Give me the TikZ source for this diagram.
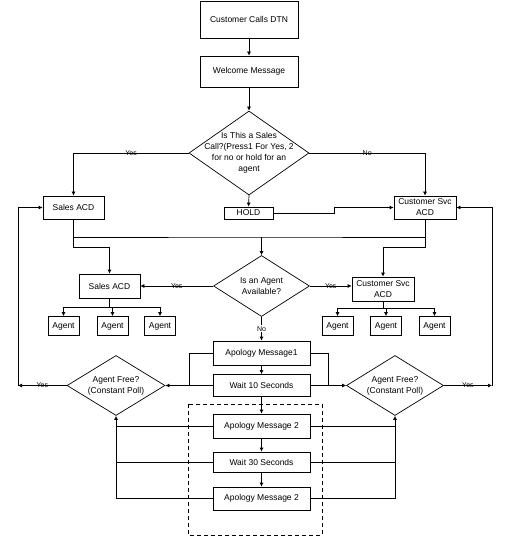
\documentclass[tikz,border=0pt]{standalone}
\usepackage{fontspec}
\setmainfont{Liberation Sans}
\usetikzlibrary{shapes.geometric,arrows.meta}

\begin{document}
\begin{tikzpicture}[x=1pt,y=-1pt,line width=0.7pt,
  every node/.style={font=\fontsize{8.5}{11}\selectfont},
  box/.style={draw,rectangle,inner sep=1pt,align=center,minimum width=97pt},
  ask/.style={draw,diamond,inner sep=0pt},
  lbl/.style={font=\fontsize{7}{8}\selectfont,inner sep=1pt},
  arr/.style={-{Latex[length=4pt,width=4pt]}}]
  \useasboundingbox (0,0) rectangle (510,537);

  % main column
  \node[box,minimum width=98pt,minimum height=37pt] (calls) at (249,19.5) {Customer Calls DTN};
  \node[box,minimum width=98pt,minimum height=31pt] (welcome) at (249,71.5) {Welcome Message};
  \node[ask,minimum width=120pt,minimum height=84pt,
    label={[align=center]center:{Is This a Sales\\Call?(Press1 For Yes, 2\\for no or hold for an\\agent}}] (q1) at (249,153) {};
  \node[box,minimum width=61pt,minimum height=23pt] (salesA) at (73.5,207.5) {Sales ACD};
  \node[box,minimum width=49pt,minimum height=12pt,inner sep=0pt] (hold) at (248.5,213) {HOLD};
  \node[box,minimum width=62pt,minimum height=23pt] (svcA) at (425,207.5) {Customer Svc\\ACD};
  \node[ask,minimum width=96pt,minimum height=61pt,
    label={[align=center]center:{Is an Agent\\Available?}}] (q2) at (261.5,286) {};
  \node[box,minimum width=61pt,minimum height=24pt] (salesB) at (109.5,286) {Sales ACD};
  \node[box,minimum width=62pt,minimum height=24pt] (svcB) at (383,289) {Customer Svc\\ACD};
  \foreach \n/\x in {1/63.5,2/112.5,3/160}
    \node[box,minimum width=31pt,minimum height=19pt] (sa\n) at (\x,326) {Agent};
  \foreach \n/\x in {1/337.5,2/386,3/434.5}
    \node[box,minimum width=31pt,minimum height=19pt] (ca\n) at (\x,326) {Agent};
  \node[box,minimum height=24pt] (apo1) at (261.5,353) {Apology Message1};
  \node[box,minimum height=22pt] (wait10) at (261.5,385.5) {Wait 10 Seconds};
  \node[ask,minimum width=98pt,minimum height=60pt,
    label={[align=center]center:{Agent Free?\\(Constant Poll)}}] (d3) at (116,385.5) {};
  \node[ask,minimum width=97pt,minimum height=60pt,
    label={[align=center]center:{Agent Free?\\(Constant Poll)}}] (d4) at (395,385.5) {};
  \draw[dash pattern=on 4pt off 3pt] (188,404) rectangle (322,535);
  \node[box,minimum height=24pt] (apo2a) at (261.5,426) {Apology Message 2};
  \node[box,minimum height=20pt] (wait30) at (261.5,462) {Wait 30 Seconds};
  \node[box,minimum height=23pt] (apo2b) at (261.5,498.5) {Apology Message 2};

  \coordinate (hstep) at (334,213);
  \coordinate (join) at (261.5,237);
  \coordinate (lb) at (189,385.5);
  \coordinate (rb) at (328,385.5);
  \coordinate (lret) at (18,385.5);
  \coordinate (rret) at (492,385.5);

  % connectors
  \draw[arr] (calls) -- (welcome);
  \draw[arr] (welcome) -- (q1);
  \draw[arr] (q1.west) -| node[lbl,pos=0.25] {Yes} (salesA.north);
  \draw[arr] (q1.east) -| node[lbl,pos=0.25] {No} (svcA.north);
  \draw[arr] (q1.south) -- (hold.north);
  \draw[arr] (hold.east) -- (hstep) |- (svcA.west);
  \draw (salesA.south) |- (join) -| (svcA.south);
  \draw[arr] (join) -- (q2.north);
  \draw[arr] (salesA.south) -- ++(0,28) -| (salesB.north);
  \draw[arr] (svcA.south) -- ++(0,28) -| (svcB.north);
  \draw[arr] (q2.west) -- node[lbl] {Yes} (salesB.east);
  \draw[arr] (q2.east) -- node[lbl] {Yes} (q2.east -| svcB.west);
  \foreach \n in {1,2,3} {
    \draw[arr] (salesB.south) -- ++(0,8.5) -| (sa\n.north);
    \draw[arr] (svcB.south) -- ++(0,7) -| (ca\n.north);
  }
  \draw[arr] (q2.south) -- node[lbl,fill=white] {No} (apo1.north);
  \draw[arr] (apo1) -- (wait10);
  \draw (apo1.west) -| (lb) -- (wait10.west);
  \draw (apo1.east) -| (rb) -- (wait10.east);
  \draw[arr] (lb) -- (d3.east);
  \draw[arr] (rb) -- (d4.west);
  \draw[arr] (d3.west) -- node[lbl] {Yes} (lret);
  \draw[arr] (d4.east) -- node[lbl] {Yes} (rret);
  \draw[arr] (lret) |- (salesA.west);
  \draw[arr] (rret) |- (svcA.east);
  \draw[arr] (wait10) -- (apo2a);
  \draw[arr] (apo2a) -- (wait30);
  \draw[arr] (wait30) -- (apo2b);
  \draw[arr] (apo2b.west) -| (d3.south);
  \draw[arr] (apo2b.east) -| (d4.south);
  \foreach \b in {apo2a,wait30} {
    \draw (\b.west) -- (\b.west -| d3.south);
    \draw (\b.east) -- (\b.east -| d4.south);
  }
\end{tikzpicture}
\end{document}
